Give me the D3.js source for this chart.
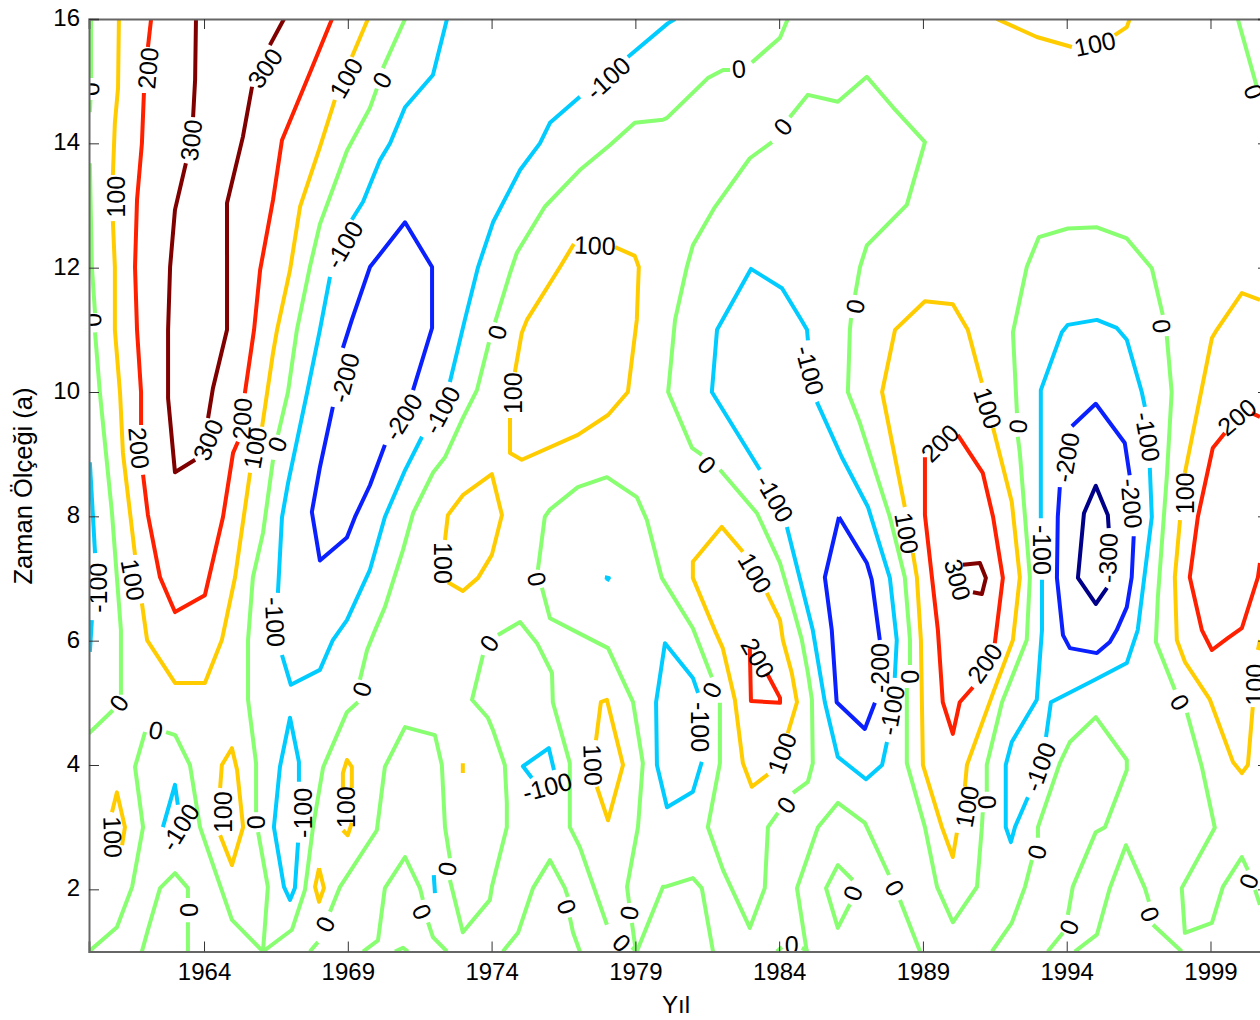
<!DOCTYPE html>
<html lang="tr">
<head>
<meta charset="utf-8">
<title>Zaman Ölçeği</title>
<script src="https://cdn.jsdelivr.net/npm/d3@7"></script>
<style>
  html, body { margin: 0; padding: 0; background: #fff; overflow: hidden; }
  svg { display: block; }
  text { font-family: "Liberation Sans", Arial, sans-serif; fill: #000; }
</style>
</head>
<body>
<div id="chart"></div>
<script>
/* ===== DATA: contour pieces as [year, scale] ===== */
const yearTicks = [1964, 1969, 1974, 1979, 1984, 1989, 1994, 1999];
const scaleTicks = [2, 4, 6, 8, 10, 12, 14, 16];
const levels = [0, 100, 200, 300, -100, -200, -300];

const zeroLines = [
  [[1960.07,16],[1960.07,15.05]],
  [[1960.05,14.7],[1960.03,14.5]],
  [[1960.03,13.68],[1960.1,12.01],[1960.21,11.27]],
  [[1960.21,10.96],[1960.38,9.98],[1960.8,8.05],[1961.11,6.17],[1961.11,5.13]],
  [[1960.83,4.88],[1960,4.51]],
  [[1970.99,16],[1970.22,15.21]],
  [[1970.01,14.88],[1969.77,14.57],[1968.97,13.88],[1968.03,12.7],[1967.68,12.01],[1967.23,11],[1966.92,10],[1966.57,9.31]],
  [[1966.4,8.91],[1966.05,7.73],[1965.7,7.02],[1965.53,6.01],[1965.53,5.05],[1965.81,4.03],[1965.81,3.24]],
  [[1965.88,2.92],[1966.22,2.04],[1966.05,1]],
  [[1984.3,16],[1984.03,15.7],[1983.05,15.3]],
  [[1982.29,15.18],[1982.05,15.18],[1981.52,15.05],[1980.1,14.41],[1979.96,14.38],[1978.98,14.33],[1978.11,13.97],[1977.07,13.57],[1975.85,12.98],[1974.88,12.24],[1974.64,11.91],[1974.12,11.12]],
  [[1973.91,10.8],[1973.49,10.03],[1973,9.58],[1972.38,8.95],[1971.96,8.7],[1971.27,8.05],[1970.92,7.46],[1970.29,6.54],[1969.95,6.17],[1969.67,5.85],[1969.42,5.37]],
  [[1969.35,5.01],[1968.97,4.85],[1968.14,3.96],[1967.79,3],[1967.51,1.99],[1967.06,1.35],[1966.05,1]],
  [[1960,1],[1960.97,1.39],[1961.5,2.04],[1961.88,3],[1961.6,3.97],[1961.95,4.53]],
  [[1962.68,4.53],[1963,4.48],[1963.51,4],[1963.86,3],[1964.97,1.51],[1966.05,1]],
  [[1961.84,1],[1962.05,1.35],[1962.47,2.02],[1962.99,2.26],[1963.44,2.02],[1963.44,1.86]],
  [[1963.44,1.47],[1963.44,1]],
  [[1967.68,1],[1967.96,1.15]],
  [[1968.38,1.64],[1968.73,2.04],[1970.01,2.95],[1970.29,3.97],[1970.99,4.61],[1972.03,4.48],[1972.27,4],[1972.38,3],[1972.55,2.5]],
  [[1972.55,2.15],[1973,1.31],[1973.94,1.83],[1974.01,2.04],[1974.53,3],[1974.53,3.39],[1974.46,4],[1974.05,4.56],[1973.87,4.76],[1973.32,5.05],[1973.7,5.77]],
  [[1974.22,6.09],[1974.99,6.3],[1975.58,5.96],[1976.1,5.48],[1976.13,5.01],[1976.72,4.03],[1976.72,3],[1977.07,2.68],[1978.01,1.43]],
  [[1978.88,1.07],[1979.05,1]],
  [[1969.53,1],[1970.05,1.18],[1970.29,2.02],[1970.99,2.52],[1971.51,2.02],[1971.61,1.83]],
  [[1971.79,1.47],[1971.96,1.23],[1972.45,1]],
  [[1970.64,1],[1970.92,1.06],[1971.09,1]],
  [[1974.39,1],[1974.92,1.3],[1975.44,2.02],[1976.03,2.47],[1976.55,2.02],[1976.65,1.88]],
  [[1976.72,1.55],[1976.83,1.31],[1977.07,1]],
  [[1975.61,7.14],[1975.85,7.99],[1976.03,8.11],[1977,8.47],[1978.01,8.63],[1979.05,8.31],[1979.4,7.94],[1979.92,7.01],[1981,6.2],[1981.66,5.41]],
  [[1981.94,5],[1981.94,4.03],[1981.52,3],[1982.05,2.31],[1982.98,1.38],[1983.5,2.02],[1983.61,3],[1983.96,3.23]],
  [[1984.48,3.55],[1985,3.73],[1985.17,4.03],[1985.14,5.05],[1985,5.48],[1984.79,6.01],[1984.44,6.6],[1984.03,7.25],[1983.23,8.05],[1981.94,8.75]],
  [[1981.31,8.99],[1980.97,9.1],[1980.14,10],[1980.38,11.16],[1980.79,12.01],[1981,12.36],[1981.76,12.97],[1982.98,13.76],[1983.75,14.02]],
  [[1984.37,14.42],[1985,14.78],[1986.04,14.67],[1987.05,15.07],[1987.96,14.58],[1989.07,14.02],[1988.44,13.01],[1987.05,12.36],[1986.81,12.01],[1986.64,11.56]],
  [[1986.5,11.19],[1986.46,11],[1986.39,10],[1986.81,9.5],[1987.85,7.99],[1988.37,7.02],[1988.55,6.01],[1988.55,5.61]],
  [[1988.44,5.24],[1988.44,4.03],[1989.07,3],[1989.49,2.04],[1990.04,1.47],[1990.88,2.04],[1991.05,3],[1991.08,3.24]],
  [[1991.22,3.57],[1991.22,4],[1991.75,5.01],[1992.61,6.01],[1992.72,7.02],[1992.37,9.02],[1992.3,9.28]],
  [[1992.27,9.66],[1992.13,10.96],[1992.61,12.01],[1993.03,12.49],[1994.04,12.63],[1995.05,12.65],[1996.09,12.47],[1996.96,11.99],[1997.34,11.24]],
  [[1997.48,10.9],[1997.65,10],[1997.48,8.63],[1997.17,6.7],[1997.1,5.98],[1997.76,5.21]],
  [[1998.18,4.84],[1998.7,3.97],[1999.15,2.99],[1998,2.02],[1998.11,1.3],[1999.05,1.46],[1999.43,2.04],[2000.09,2.52],[2000.3,2.31]],
  [[2000.55,1.99],[2000.72,1.75]],
  [[1975.75,6.85],[1976.03,6.36],[1976.83,6.17],[1978.05,5.88],[1978.92,5.01],[1979.26,4.03],[1979.09,3],[1978.71,2.04],[1978.78,1.78]],
  [[1978.88,1.46],[1979.02,1]],
  [[1979.05,1],[1979.96,2.04],[1980.03,2.04],[1981,2.18],[1981.31,2.02],[1981.7,1]],
  [[1984.96,1],[1984.62,2.02],[1985.35,3],[1986.04,3.39],[1986.98,3.07],[1987.82,2.23]],
  [[1988.2,1.83],[1988.9,1]],
  [[1986.56,2.15],[1986.04,2.39],[1985.63,2.02],[1986.04,1.38],[1986.46,1.76]],
  [[1983.92,1],[1984.1,1.07]],
  [[1984.79,1.06],[1985,1]],
  [[1991.4,1],[1992.09,1.46],[1992.55,2.04],[1992.79,2.47]],
  [[1993,2.83],[1993,3],[1993.76,4.03],[1994.11,4.37],[1995.01,4.77],[1996.09,4.08],[1996.09,3.92],[1995.33,3],[1995.01,2.92],[1994.21,2.04],[1994.04,1.59]],
  [[1993.87,1.3],[1993.34,1]],
  [[1994.28,1],[1995.05,1.27],[1995.5,2.02],[1996.06,2.71],[1996.72,2.02],[1996.86,1.8]],
  [[1997,1.43],[1998,1]],
  [[1999.95,16],[2000.61,14.91]]
];

const pos100Lines = [
  [[1961.04,16],[1961.01,14.89],[1960.9,14.33],[1960.83,13.49]],
  [[1960.83,12.75],[1960.9,12.01],[1960.9,11],[1961.08,9.98],[1961.18,9.02],[1961.6,7.38]],
  [[1961.84,6.6],[1962.02,6.01],[1962.99,5.32],[1964.03,5.32],[1964.62,6.01],[1965.08,7.02],[1965.6,8.7]],
  [[1966.02,9.44],[1966.4,10.63],[1966.54,11],[1966.99,11.96],[1967.34,12.98],[1968.03,13.94],[1968.55,14.7]],
  [[1969.14,15.39],[1969.7,16]],
  [[1976.86,12.38],[1976.38,12.01],[1975.23,11.16],[1975.05,10.95],[1974.81,10.32]],
  [[1974.64,9.58],[1974.64,9.02],[1975.05,8.91],[1977,9.31],[1978.05,9.63],[1978.74,10],[1979.05,11.16],[1979.12,12.01],[1978.98,12.19],[1978.29,12.33]],
  [[1972.38,7.62],[1972.48,8.02],[1973,8.34],[1974.01,8.68],[1974.36,8.02],[1974.01,7.38],[1973.53,7.01],[1973,6.8],[1972.48,6.94]],
  [[1982.74,7.43],[1982,7.83],[1981,7.27],[1981,7.01],[1981.76,6.17],[1982.04,5.88],[1982.46,5.05],[1982.74,4.03],[1983.05,3.65],[1983.61,3.85]],
  [[1984.3,4.51],[1984.62,5.01],[1984.44,5.48],[1984.13,6.01],[1984.03,6.33],[1983.57,6.77]],
  [[1960.8,3.24],[1960.97,3.56],[1961.25,3],[1961.15,2.71]],
  [[1964.56,3.63],[1964.62,4],[1964.97,4.27],[1965.15,3.92],[1965.36,3],[1964.97,2.39],[1964.56,2.87]],
  [[1968.83,3.63],[1968.83,3.87],[1968.97,4.08],[1969.14,3.97],[1969.14,3.63]],
  [[1969.14,3.07],[1969,2.87],[1968.83,2.95]],
  [[1968,2.34],[1967.86,2.04],[1968,1.8],[1968.17,2.02],[1968,2.34]],
  [[1973,4.03],[1973,3.87]],
  [[1977.63,4.4],[1977.8,5.01],[1978.01,5.05],[1978.57,4],[1978.05,3.11],[1977.66,3.65]],
  [[1991.57,16],[1992.96,15.71],[1994.18,15.55]],
  [[1995.67,15.74],[1996.09,15.87],[1996.19,16]],
  [[1991.05,10.15],[1990.56,11],[1990.04,11.41],[1989.07,11.46],[1988.03,11],[1987.58,10],[1988.37,8.15]],
  [[1988.65,7.41],[1988.79,7.02],[1988.93,6.01],[1989,4],[1989.66,3],[1990.04,2.52],[1990.18,2.91]],
  [[1990.46,3.65],[1990.53,4],[1991.44,5.16],[1992.13,6.01],[1992.37,7.02],[1992.09,8.23],[1991.44,9.42]],
  [[1998.11,8.7],[1999.05,10.87],[1999.22,11],[2000.09,11.59],[2000.72,11.48]],
  [[1997.94,7.94],[1997.76,7.02],[1997.83,6.01],[1998.11,5.66],[1998.98,5.05],[1999.78,4.05],[2000.09,3.87],[2000.3,4],[2000.47,4.93]],
  [[2000.65,5.85],[2000.72,6.01]]
];

const pos200Lines = [
  [[1962.16,16],[1962.05,15.55]],
  [[1961.91,14.81],[1961.84,14],[1961.67,13.09],[1961.6,12.01],[1961.67,11],[1961.81,10],[1961.81,9.47]],
  [[1961.88,8.67],[1962.05,8.02],[1962.47,7.02],[1962.99,6.46],[1964.03,6.73],[1964.66,7.99],[1965.01,9.02],[1965.18,9.2]],
  [[1965.42,9.98],[1965.74,11],[1965.95,11.96],[1966.4,13.09],[1966.71,14.05],[1967.68,15.13],[1968.45,16]],
  [[1989.07,8.95],[1989.07,8.02],[1989.52,6.17],[1989.69,5.01],[1990.04,4.5],[1990.28,5.01],[1990.74,5.25]],
  [[1991.5,5.96],[1991.78,7.01],[1991.44,7.99],[1991.08,8.7],[1990.21,9.31]],
  [[1999.5,9.34],[1999.08,9.1],[1998.56,7.99],[1998.28,7.02],[1998.7,6.17],[1999.05,5.85],[1999.6,6.04],[2000.09,6.2],[2000.65,7.02],[2000.72,7.25]],
  [[2000.44,9.66],[2000.72,9.6]],
  [[1982.98,5.88],[1983.02,5.03],[1984.03,5],[1984.03,5.08],[1983.57,5.48]]
];

const pos300Lines = [
  [[1963.72,16],[1963.69,15.02],[1963.62,14.42]],
  [[1963.37,13.68],[1962.99,12.93],[1962.82,12.01],[1962.75,11],[1962.75,9.9],[1962.99,8.71],[1963.69,8.91]],
  [[1964.14,9.58],[1964.31,10.06],[1964.8,11],[1964.8,13.04],[1965.35,14.1],[1965.67,14.91]],
  [[1966.29,15.58],[1966.78,16]],
  [[1990.39,7.22],[1990.98,7.25],[1991.19,7.01],[1991.05,6.75],[1990.74,6.78]]
];

const neg100Lines = [
  [[1960.03,8.87],[1960.21,7.41]],
  [[1960.1,6.33],[1960.03,5.82]],
  [[1972.45,16],[1971.96,15.1],[1970.99,14.58],[1970.47,14],[1970.12,13.73],[1969.53,13.06],[1969.14,12.77]],
  [[1968.38,11.85],[1968.03,11],[1967.58,9.98],[1966.92,8.53],[1966.71,7.98],[1966.57,6.77]],
  [[1966.71,5.77],[1967.02,5.29],[1968.03,5.53],[1968.48,6.01],[1968.97,6.33],[1969.77,7.14],[1970.29,7.99],[1970.99,8.74],[1971.58,9.28]],
  [[1972.55,10.16],[1973.07,11.16],[1973.53,12.01],[1974.05,12.73],[1974.99,13.57],[1975.68,14],[1976.03,14.33],[1977.07,14.75]],
  [[1978.74,15.39],[1980.13,15.93],[1980.38,16]],
  [[1962.57,3],[1962.99,3.68],[1963.09,3.36]],
  [[1967.3,3.73],[1967.3,4.05],[1966.99,4.76],[1966.64,3.97],[1966.43,3],[1966.78,2.04],[1966.99,1.83],[1967.16,2.02],[1967.27,2.75]],
  [[1975.4,3.79],[1975.09,3.98],[1975.99,4.27],[1976.17,3.92]],
  [[1971.99,2.23],[1972.03,1.94]],
  [[1977.94,7.02],[1978.08,7.01],[1978.01,6.96]],
  [[1981.31,4.05],[1981,3.57],[1980.1,3.32],[1979.75,4],[1979.72,5.01],[1980.03,5.96],[1981,5.4],[1981.18,5.16]],
  [[1983.33,8.75],[1981.66,10],[1981.84,11],[1983.02,11.98],[1984.1,11.67],[1984.73,11.19],[1984.97,11],[1985,10.83]],
  [[1985.31,9.84],[1986.18,8.95],[1987.09,8.15],[1987.85,7.01],[1988.09,6.01],[1988.02,5.4]],
  [[1987.75,4.37],[1987.58,4],[1987.02,3.77],[1986.04,4.13],[1985.59,5.01],[1985.17,6.17],[1984.27,7.83]],
  [[1996.72,9.76],[1996.61,10],[1996.09,10.84],[1995.74,11.03],[1995.05,11.16],[1994.04,11.08],[1993.83,10.96],[1993.1,10.03],[1993.1,7.97]],
  [[1993.14,6.98],[1993.14,6.17],[1992.96,5.05],[1992.09,4.37],[1991.88,4],[1991.88,3],[1992.06,2.76],[1992.2,3],[1992.65,3.48]],
  [[1993.28,4.45],[1993.45,5.01],[1994.98,5.37],[1996.09,5.64],[1996.47,6.17],[1996.96,7.99],[1996.89,8.78]]
];

const neg200Lines = [
  [[1968.83,10.71],[1969.14,11.16],[1969.77,12.01],[1970.99,12.73],[1971.93,12.01],[1971.93,11.03],[1971.27,10.03]],
  [[1970.29,9.15],[1969.77,8.5],[1969.25,7.99],[1968.97,7.66],[1968.03,7.29],[1967.75,8.07],[1968.03,8.79],[1968.48,9.76]],
  [[1986.08,7.99],[1985.59,7.02],[1985.83,6.17],[1986,5.01],[1986.98,4.58],[1987.33,5]],
  [[1987.5,6.01],[1987.22,6.98],[1987.05,7.25],[1986.08,7.99]],
  [[1994.18,9.45],[1995.01,9.81],[1996.02,9.18],[1996.19,8.66]],
  [[1996.33,7.68],[1996.26,7.02],[1996.09,6.54],[1995.74,6.17],[1995.5,5.98],[1995.05,5.8],[1994.11,5.88],[1993.87,6.09],[1993.66,7.01],[1993.69,7.99],[1993.76,8.47]]
];

const neg300Lines = [
  [[1995.46,7.81],[1995.43,8.02],[1995.01,8.49],[1994.6,8.05],[1994.39,7.01],[1995.01,6.59],[1995.4,6.85]]
];

// inline level labels: [year, scale, rotation along the line]
const zeroLabels = [
  [1960.07,14.87,88],[1960.14,11.16,88],[1961.04,5,-55],[1962.33,4.56,10],[1965.81,3.08,90],[1963.48,1.67,90],
  [1968.21,1.44,-65],[1966.54,9.16,-70],[1969.49,5.22,-72],[1970.19,15.02,-60],[1974.19,10.96,-75],[1971.58,1.64,65],
  [1972.45,2.33,-80],[1973.91,5.96,-55],[1975.58,6.99,78],[1976.62,1.72,70],[1978.78,1.62,-80],[1978.53,1.14,45],
  [1982.6,15.2,-5],[1984.13,14.27,-50],[1986.64,11.38,-78],[1981.49,8.83,45],[1981.66,5.21,-65],[1984.24,3.36,-55],
  [1988.02,2.02,60],[1986.56,1.94,-70],[1984.44,1.1,0],[1988.55,5.42,90],[1991.22,3.4,90],[1992.3,9.45,-85],
  [1997.31,11.06,85],[2000.51,14.83,70],[1992.96,2.6,-75],[1994.08,1.39,-70],[1996.9,1.6,70],[2000.33,2.13,-70],[1997.94,5.01,60]
];
const pos100Labels = [
  [1960.94,13.14,-90],[1961.53,6.98,80],[1965.77,9.1,-80],[1968.94,15.05,-60],[1974.75,9.98,-90],[1977.59,12.36,2],
  [1972.31,7.25,90],[1960.83,2.84,88],[1964.66,3.24,-90],[1968.94,3.32,-90],[1977.53,4,88],[1983.16,7.09,60],
  [1984.1,4.19,-70],[1988.44,7.73,80],[1991.26,9.74,72],[1990.53,3.33,-80],[1994.98,15.6,-12],[1998.11,8.37,-90],[2000.55,5.29,-90]
];
const pos200Labels = [
  [1962.05,15.21,-85],[1961.74,9.1,85],[1965.32,9.57,-87],[1989.59,9.18,-45],[1991.15,5.64,-55],[1983.26,5.72,60],[1999.92,9.6,-40]
];
const pos300Labels = [
  [1963.55,14.05,-83],[1966.12,15.21,-55],[1964.14,9.23,-68],[1990.21,6.98,75]
];
const neg100Labels = [
  [1960.31,6.85,-90],[1968.87,12.37,-60],[1966.47,6.3,87],[1972.27,9.71,-62],[1978.05,15.05,-42],[1963.16,3,-58],
  [1967.44,3.23,-90],[1975.93,3.65,-15],[1981.25,4.61,90],[1983.85,8.29,60],[1985.07,10.35,75],[1987.92,4.88,-80],
  [1993.14,7.46,90],[1996.82,9.28,80],[1993.07,3.97,-70]
];
const neg200Labels = [
  [1968.9,10.23,-75],[1970.92,9.6,-58],[1987.5,5.56,-90],[1994,8.95,-80],[1996.26,8.21,85]
];
const neg300Labels = [
  [1995.43,7.33,-88]
];

const linesByLevel = new Map([
  [0, zeroLines], [100, pos100Lines], [200, pos200Lines], [300, pos300Lines],
  [-100, neg100Lines], [-200, neg200Lines], [-300, neg300Lines]
]);
const labelsByLevel = new Map([
  [0, zeroLabels], [100, pos100Labels], [200, pos200Labels], [300, pos300Labels],
  [-100, neg100Labels], [-200, neg200Labels], [-300, neg300Labels]
]);

const levelColors = {
  "-300": "#000088",
  "-200": "#0a20ff",
  "-100": "#00ccff",
  "0": "#88ff70",
  "100": "#ffcc00",
  "200": "#ff2000",
  "300": "#800000"
};

/* ===== SVG + SCALES ===== */
const width = 1260;
const height = 1020;
const plot = { left: 89, right: 1268, top: 19, bottom: 951.5 };

const svg = d3.select("#chart")
  .append("svg")
  .attr("width", width)
  .attr("height", height)
  .attr("viewBox", `0 0 ${width} ${height}`);

const x = d3.scaleLinear().domain([1960, 2001]).range([plot.left, plot.right]);
const y = d3.scaleLinear().domain([1, 16]).range([plot.bottom, plot.top]);

svg.append("clipPath")
  .attr("id", "plot-clip")
  .append("rect")
  .attr("x", plot.left)
  .attr("y", plot.top)
  .attr("width", plot.right - plot.left)
  .attr("height", plot.bottom - plot.top);

const plotArea = svg.append("g").attr("clip-path", "url(#plot-clip)");

/* ===== CONTOUR LINES ===== */
const line = d3.line().x((d) => x(d[0])).y((d) => y(d[1]));

levels.forEach((level) => {
  plotArea.append("g")
    .selectAll("path")
    .data(linesByLevel.get(level))
    .enter()
    .append("path")
    .attr("d", line)
    .attr("fill", "none")
    .attr("stroke", levelColors[level])
    .attr("stroke-width", 4)
    .attr("stroke-linejoin", "round");
});

/* ===== LEVEL LABELS ===== */
levels.forEach((level) => {
  plotArea.append("g")
    .selectAll("text")
    .data(labelsByLevel.get(level))
    .enter()
    .append("text")
    .attr("transform", (d) => `translate(${x(d[0])},${y(d[1])}) rotate(${d[2]})`)
    .attr("text-anchor", "middle")
    .attr("dy", "0.36em")
    .attr("font-size", 25)
    .text(level);
});

/* ===== AXES ===== */
const axisBottom = d3.axisBottom(x).tickValues(yearTicks).tickFormat(d3.format("d")).tickSize(-10).tickPadding(11);
const axisTop = d3.axisTop(x).tickValues(yearTicks).tickFormat("").tickSize(-10);
const axisLeft = d3.axisLeft(y).tickValues(scaleTicks).tickSize(-10).tickPadding(9);
const axisRight = d3.axisRight(y).tickValues(scaleTicks).tickFormat("").tickSize(-10);

const axes = [
  svg.append("g").attr("transform", `translate(0,${plot.bottom})`).call(axisBottom),
  svg.append("g").attr("transform", `translate(0,${plot.top})`).call(axisTop),
  svg.append("g").attr("class", "y-left").attr("transform", `translate(${plot.left},0)`).call(axisLeft),
  svg.append("g").attr("transform", `translate(${plot.right},0)`).call(axisRight)
];

axes.forEach((axis) => {
  axis.select(".domain").attr("stroke", "#666").attr("stroke-width", 2);
  axis.selectAll(".tick line").attr("stroke", "#333").attr("stroke-width", 1);
  axis.selectAll(".tick text").attr("font-size", 24).attr("font-family", "Liberation Sans, Arial, sans-serif").attr("fill", "#000");
});
svg.selectAll(".y-left .tick text").attr("dy", "0.27em");

/* ===== AXIS TITLES ===== */
svg.append("text")
  .attr("x", 676)
  .attr("y", 1013)
  .attr("text-anchor", "middle")
  .attr("font-size", 24)
  .text("Yıl");

svg.append("text")
  .attr("transform", "translate(32,486) rotate(-90)")
  .attr("text-anchor", "middle")
  .attr("font-size", 25.5)
  .text("Zaman Ölçeği (a)");
</script>
</body>
</html>
